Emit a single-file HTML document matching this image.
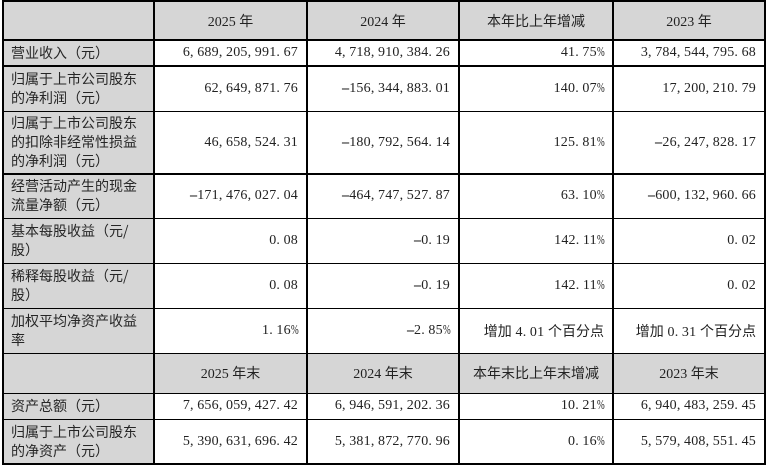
<!DOCTYPE html>
<html><head><meta charset="utf-8">
<style>
html,body{margin:0;padding:0;background:#fff;}
#w{position:relative;width:767px;height:467px;overflow:hidden;background:#fff;
 font-family:"Liberation Serif","Noto Sans CJK SC",serif;color:#222;}
.g{position:absolute;background:#d6d6d6;}
.hl{position:absolute;left:2.25px;width:763.5px;height:1.5px;background:#000;}
.vl{position:absolute;top:0.25px;height:464.5px;width:1.5px;background:#000;}
.c{position:absolute;display:flex;align-items:center;box-sizing:border-box;white-space:nowrap;}
.l{padding-left:8px;justify-content:flex-start;font-family:"Noto Sans CJK SC",sans-serif;font-size:14px;line-height:19px;color:#262626;}
.r{padding-right:9px;justify-content:flex-end;font-size:14px;letter-spacing:.2px;}
.h{justify-content:center;font-size:14px;}
.k{font-family:"Noto Sans CJK SC",sans-serif;letter-spacing:0;}
i{font-style:normal;display:inline-block;width:7.2px;letter-spacing:0;text-align:left;}
i.m{text-align:center;transform:scaleX(2);}
i.p{transform:scaleX(0.66);transform-origin:left center;}
</style></head><body>
<div id="w">
<div class="g" style="left:3px;top:1px;width:762px;height:39px"></div>
<div class="g" style="left:3px;top:353px;width:762px;height:40px"></div>
<div class="g" style="left:3px;top:1px;width:151px;height:463px"></div>

<div class="c h" style="left:154px;top:1px;width:153px;height:39px"><span>2025 <span class="k">年</span></span></div>
<div class="c h" style="left:307px;top:1px;width:152px;height:39px"><span>2024 <span class="k">年</span></span></div>
<div class="c h" style="left:459px;top:1px;width:154px;height:39px"><span class="k">本年比上年增减</span></div>
<div class="c h" style="left:613px;top:1px;width:152px;height:39px"><span>2023 <span class="k">年</span></span></div>

<div class="c l" style="left:3px;top:40px;width:151px;height:26px">营业收入（元）</div>
<div class="c r" style="left:154px;top:40px;width:153px;height:26px"><span>6<i>,</i>689<i>,</i>205<i>,</i>991<i>.</i>67</span></div>
<div class="c r" style="left:307px;top:40px;width:152px;height:26px"><span>4<i>,</i>718<i>,</i>910<i>,</i>384<i>.</i>26</span></div>
<div class="c r" style="left:459px;top:40px;width:154px;height:26px"><span>41<i>.</i>75<i class="p">%</i></span></div>
<div class="c r" style="left:613px;top:40px;width:152px;height:26px"><span>3<i>,</i>784<i>,</i>544<i>,</i>795<i>.</i>68</span></div>

<div class="c l" style="left:3px;top:66px;width:151px;height:45px">归属于上市公司股东<br>的净利润（元）</div>
<div class="c r" style="left:154px;top:66px;width:153px;height:45px"><span>62<i>,</i>649<i>,</i>871<i>.</i>76</span></div>
<div class="c r" style="left:307px;top:66px;width:152px;height:45px"><span><i class="m">-</i>156<i>,</i>344<i>,</i>883<i>.</i>01</span></div>
<div class="c r" style="left:459px;top:66px;width:154px;height:45px"><span>140<i>.</i>07<i class="p">%</i></span></div>
<div class="c r" style="left:613px;top:66px;width:152px;height:45px"><span>17<i>,</i>200<i>,</i>210<i>.</i>79</span></div>

<div class="c l" style="left:3px;top:111px;width:151px;height:63px">归属于上市公司股东<br>的扣除非经常性损益<br>的净利润（元）</div>
<div class="c r" style="left:154px;top:111px;width:153px;height:63px"><span>46<i>,</i>658<i>,</i>524<i>.</i>31</span></div>
<div class="c r" style="left:307px;top:111px;width:152px;height:63px"><span><i class="m">-</i>180<i>,</i>792<i>,</i>564<i>.</i>14</span></div>
<div class="c r" style="left:459px;top:111px;width:154px;height:63px"><span>125<i>.</i>81<i class="p">%</i></span></div>
<div class="c r" style="left:613px;top:111px;width:152px;height:63px"><span><i class="m">-</i>26<i>,</i>247<i>,</i>828<i>.</i>17</span></div>

<div class="c l" style="left:3px;top:174px;width:151px;height:44px">经营活动产生的现金<br>流量净额（元）</div>
<div class="c r" style="left:154px;top:174px;width:153px;height:44px"><span><i class="m">-</i>171<i>,</i>476<i>,</i>027<i>.</i>04</span></div>
<div class="c r" style="left:307px;top:174px;width:152px;height:44px"><span><i class="m">-</i>464<i>,</i>747<i>,</i>527<i>.</i>87</span></div>
<div class="c r" style="left:459px;top:174px;width:154px;height:44px"><span>63<i>.</i>10<i class="p">%</i></span></div>
<div class="c r" style="left:613px;top:174px;width:152px;height:44px"><span><i class="m">-</i>600<i>,</i>132<i>,</i>960<i>.</i>66</span></div>

<div class="c l" style="left:3px;top:218px;width:151px;height:45px">基本每股收益（元/<br>股）</div>
<div class="c r" style="left:154px;top:218px;width:153px;height:45px"><span>0<i>.</i>08</span></div>
<div class="c r" style="left:307px;top:218px;width:152px;height:45px"><span><i class="m">-</i>0<i>.</i>19</span></div>
<div class="c r" style="left:459px;top:218px;width:154px;height:45px"><span>142<i>.</i>11<i class="p">%</i></span></div>
<div class="c r" style="left:613px;top:218px;width:152px;height:45px"><span>0<i>.</i>02</span></div>

<div class="c l" style="left:3px;top:263px;width:151px;height:45px">稀释每股收益（元/<br>股）</div>
<div class="c r" style="left:154px;top:263px;width:153px;height:45px"><span>0<i>.</i>08</span></div>
<div class="c r" style="left:307px;top:263px;width:152px;height:45px"><span><i class="m">-</i>0<i>.</i>19</span></div>
<div class="c r" style="left:459px;top:263px;width:154px;height:45px"><span>142<i>.</i>11<i class="p">%</i></span></div>
<div class="c r" style="left:613px;top:263px;width:152px;height:45px"><span>0<i>.</i>02</span></div>

<div class="c l" style="left:3px;top:308px;width:151px;height:45px">加权平均净资产收益<br>率</div>
<div class="c r" style="left:154px;top:308px;width:153px;height:45px"><span>1<i>.</i>16<i class="p">%</i></span></div>
<div class="c r" style="left:307px;top:308px;width:152px;height:45px"><span><i class="m">-</i>2<i>.</i>85<i class="p">%</i></span></div>
<div class="c r" style="left:459px;top:308px;width:154px;height:45px"><span><span class="k">增加</span> 4<i>.</i>01 <span class="k">个百分点</span></span></div>
<div class="c r" style="left:613px;top:308px;width:152px;height:45px"><span><span class="k">增加</span> 0<i>.</i>31 <span class="k">个百分点</span></span></div>

<div class="c h" style="left:154px;top:353px;width:153px;height:40px"><span>2025 <span class="k">年末</span></span></div>
<div class="c h" style="left:307px;top:353px;width:152px;height:40px"><span>2024 <span class="k">年末</span></span></div>
<div class="c h" style="left:459px;top:353px;width:154px;height:40px"><span class="k">本年末比上年末增减</span></div>
<div class="c h" style="left:613px;top:353px;width:152px;height:40px"><span>2023 <span class="k">年末</span></span></div>

<div class="c l" style="left:3px;top:393px;width:151px;height:26px">资产总额（元）</div>
<div class="c r" style="left:154px;top:393px;width:153px;height:26px"><span>7<i>,</i>656<i>,</i>059<i>,</i>427<i>.</i>42</span></div>
<div class="c r" style="left:307px;top:393px;width:152px;height:26px"><span>6<i>,</i>946<i>,</i>591<i>,</i>202<i>.</i>36</span></div>
<div class="c r" style="left:459px;top:393px;width:154px;height:26px"><span>10<i>.</i>21<i class="p">%</i></span></div>
<div class="c r" style="left:613px;top:393px;width:152px;height:26px"><span>6<i>,</i>940<i>,</i>483<i>,</i>259<i>.</i>45</span></div>

<div class="c l" style="left:3px;top:419px;width:151px;height:45px">归属于上市公司股东<br>的净资产（元）</div>
<div class="c r" style="left:154px;top:419px;width:153px;height:45px"><span>5<i>,</i>390<i>,</i>631<i>,</i>696<i>.</i>42</span></div>
<div class="c r" style="left:307px;top:419px;width:152px;height:45px"><span>5<i>,</i>381<i>,</i>872<i>,</i>770<i>.</i>96</span></div>
<div class="c r" style="left:459px;top:419px;width:154px;height:45px"><span>0<i>.</i>16<i class="p">%</i></span></div>
<div class="c r" style="left:613px;top:419px;width:152px;height:45px"><span>5<i>,</i>579<i>,</i>408<i>,</i>551<i>.</i>45</span></div>

<div class="hl" style="top:0.25px"></div>
<div class="hl" style="top:39.25px"></div>
<div class="hl" style="top:65.25px"></div>
<div class="hl" style="top:110.75px"></div>
<div class="hl" style="top:173.25px"></div>
<div class="hl" style="top:217.5px"></div>
<div class="hl" style="top:262.5px"></div>
<div class="hl" style="top:307.5px"></div>
<div class="hl" style="top:352.5px"></div>
<div class="hl" style="top:392.5px"></div>
<div class="hl" style="top:418.5px"></div>
<div class="hl" style="top:463.25px"></div>
<div class="vl" style="left:2.25px"></div>
<div class="vl" style="left:153.25px"></div>
<div class="vl" style="left:306.25px"></div>
<div class="vl" style="left:458.25px"></div>
<div class="vl" style="left:612.25px"></div>
<div class="vl" style="left:764.25px"></div>
</div>
</body></html>
